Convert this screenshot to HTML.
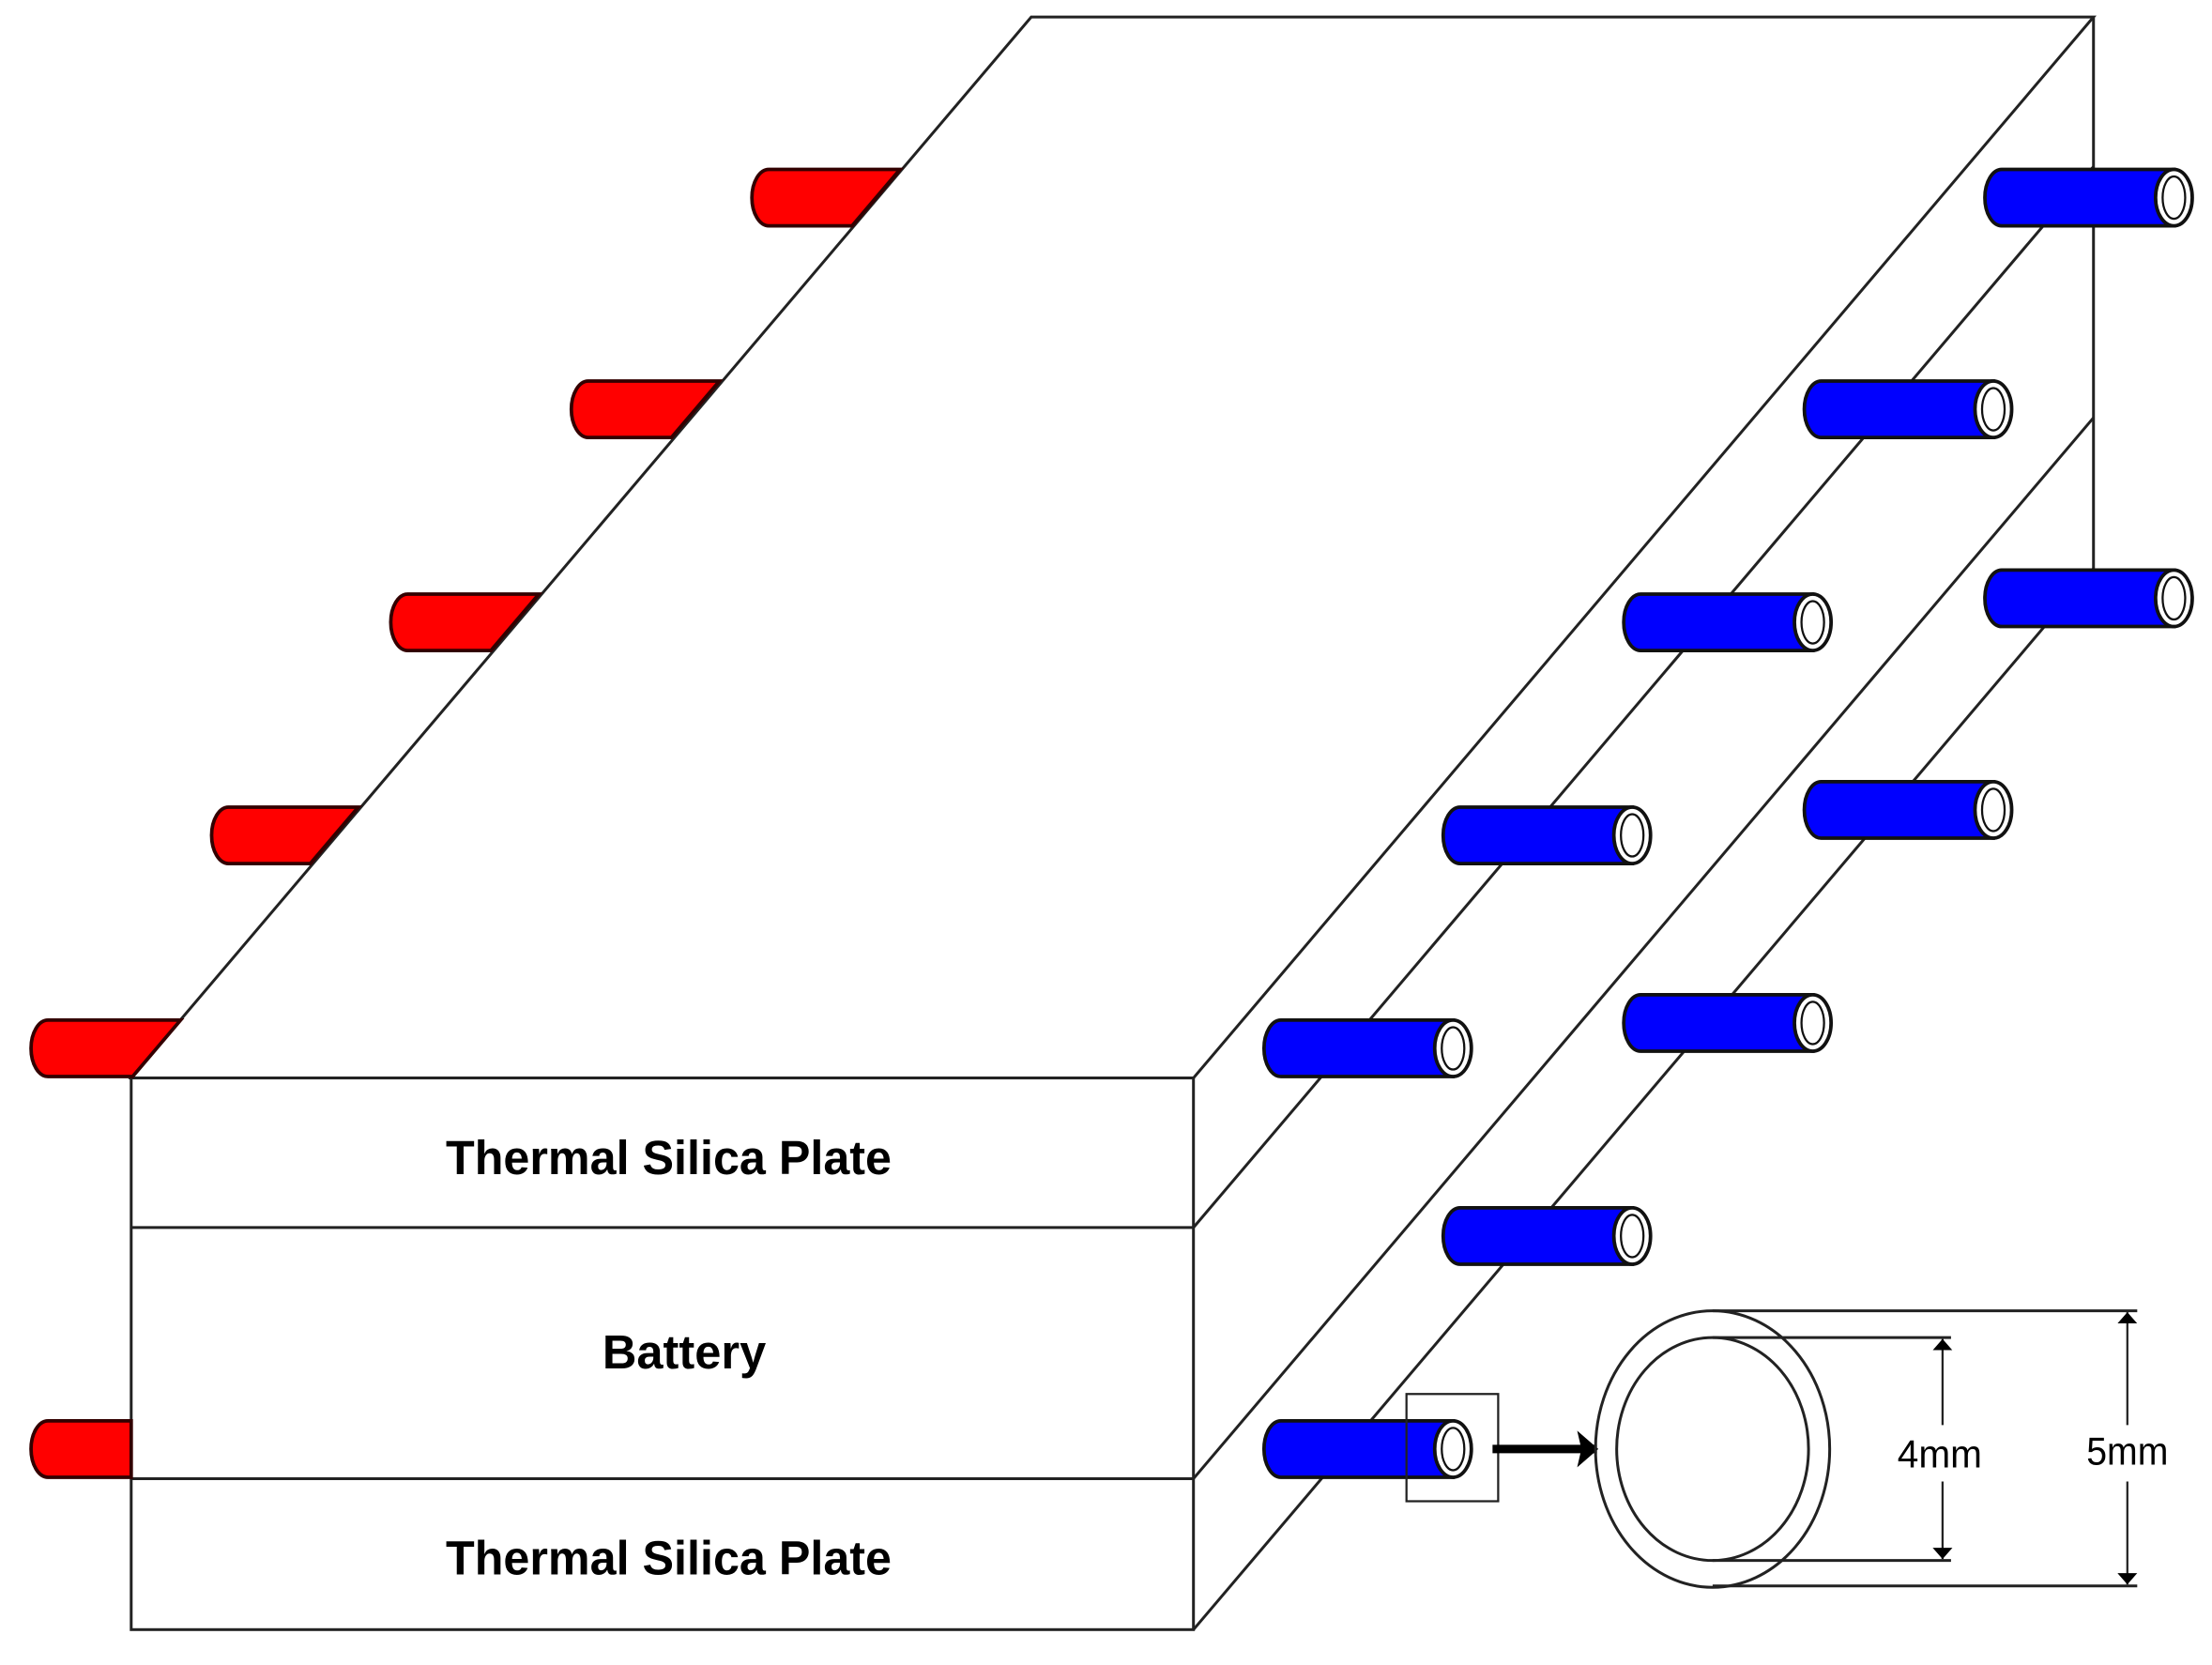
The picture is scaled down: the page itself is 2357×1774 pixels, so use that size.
<!DOCTYPE html>
<html><head><style>html,body{margin:0;padding:0;background:#fff}svg{display:block}</style></head>
<body>
<svg width="2357" height="1774" viewBox="0 0 1568 1180" xmlns="http://www.w3.org/2000/svg">
<defs>
<marker id="ah" markerWidth="8" markerHeight="14" refX="8" refY="7" orient="auto-start-reverse" markerUnits="userSpaceOnUse"><path d="M0,0 L8,7 L0,14 Z" fill="#000"/></marker>
<marker id="big" markerWidth="16" markerHeight="26" refX="14" refY="13" orient="auto" markerUnits="userSpaceOnUse"><path d="M0,0 L15,13 L0,26 L3,13 Z" fill="#000"/></marker>
</defs>
<g stroke="#222" stroke-width="2" fill="none">
<path d="M93,764 L731,12 L1484,12 L846,764 Z" fill="#fff"/>
<line x1="1484" y1="12" x2="1484" y2="403"/>
<line x1="846" y1="870" x2="1484" y2="118"/>
<line x1="846" y1="1048" x2="1484" y2="296"/>
<line x1="846" y1="1155" x2="1484" y2="403"/>
<rect x="93" y="764" width="753" height="391" fill="#fff"/>
<line x1="93" y1="870" x2="846" y2="870"/>
<line x1="93" y1="1048" x2="846" y2="1048"/>
</g>
<g fill="#f00" stroke="#300" stroke-width="2.5">
<path d="M638,120 H545 A12 20 0 0 0 545,160 H604 Z"/>
<path d="M510,270 H417 A12 20 0 0 0 417,310 H476 Z"/>
<path d="M382,421 H289 A12 20 0 0 0 289,461 H348 Z"/>
<path d="M254,572 H162 A12 20 0 0 0 162,612 H220 Z"/>
<path d="M128,723 H34 A12 20 0 0 0 34,763 H94 Z"/>
<path d="M93,1007 H34 A12 20 0 0 0 34,1047 H93 Z"/>
</g>
<g stroke="#111" stroke-width="2.5">
<g transform="translate(1407,140)"><path d="M134,-20 H12 A12 20 0 0 0 12,20 H134 Z" fill="#00f"/><ellipse cx="134" cy="0" rx="13" ry="20" fill="#fff"/><ellipse cx="134" cy="0" rx="8" ry="15" fill="#fff" stroke-width="1.5"/></g>
<g transform="translate(1279,290)"><path d="M134,-20 H12 A12 20 0 0 0 12,20 H134 Z" fill="#00f"/><ellipse cx="134" cy="0" rx="13" ry="20" fill="#fff"/><ellipse cx="134" cy="0" rx="8" ry="15" fill="#fff" stroke-width="1.5"/></g>
<g transform="translate(1151,441)"><path d="M134,-20 H12 A12 20 0 0 0 12,20 H134 Z" fill="#00f"/><ellipse cx="134" cy="0" rx="13" ry="20" fill="#fff"/><ellipse cx="134" cy="0" rx="8" ry="15" fill="#fff" stroke-width="1.5"/></g>
<g transform="translate(1023,592)"><path d="M134,-20 H12 A12 20 0 0 0 12,20 H134 Z" fill="#00f"/><ellipse cx="134" cy="0" rx="13" ry="20" fill="#fff"/><ellipse cx="134" cy="0" rx="8" ry="15" fill="#fff" stroke-width="1.5"/></g>
<g transform="translate(896,743)"><path d="M134,-20 H12 A12 20 0 0 0 12,20 H134 Z" fill="#00f"/><ellipse cx="134" cy="0" rx="13" ry="20" fill="#fff"/><ellipse cx="134" cy="0" rx="8" ry="15" fill="#fff" stroke-width="1.5"/></g>
<g transform="translate(1407,424)"><path d="M134,-20 H12 A12 20 0 0 0 12,20 H134 Z" fill="#00f"/><ellipse cx="134" cy="0" rx="13" ry="20" fill="#fff"/><ellipse cx="134" cy="0" rx="8" ry="15" fill="#fff" stroke-width="1.5"/></g>
<g transform="translate(1279,574)"><path d="M134,-20 H12 A12 20 0 0 0 12,20 H134 Z" fill="#00f"/><ellipse cx="134" cy="0" rx="13" ry="20" fill="#fff"/><ellipse cx="134" cy="0" rx="8" ry="15" fill="#fff" stroke-width="1.5"/></g>
<g transform="translate(1151,725)"><path d="M134,-20 H12 A12 20 0 0 0 12,20 H134 Z" fill="#00f"/><ellipse cx="134" cy="0" rx="13" ry="20" fill="#fff"/><ellipse cx="134" cy="0" rx="8" ry="15" fill="#fff" stroke-width="1.5"/></g>
<g transform="translate(1023,876)"><path d="M134,-20 H12 A12 20 0 0 0 12,20 H134 Z" fill="#00f"/><ellipse cx="134" cy="0" rx="13" ry="20" fill="#fff"/><ellipse cx="134" cy="0" rx="8" ry="15" fill="#fff" stroke-width="1.5"/></g>
<g transform="translate(896,1027)"><path d="M134,-20 H12 A12 20 0 0 0 12,20 H134 Z" fill="#00f"/><ellipse cx="134" cy="0" rx="13" ry="20" fill="#fff"/><ellipse cx="134" cy="0" rx="8" ry="15" fill="#fff" stroke-width="1.5"/></g>
</g>
<g stroke="#222" fill="none">
<rect x="997" y="988" width="65" height="76" stroke-width="1.5"/>
<line x1="1058" y1="1027" x2="1132" y2="1027" stroke="#000" stroke-width="6" marker-end="url(#big)"/>
<ellipse cx="1214" cy="1027" rx="83" ry="98" stroke-width="2"/>
<ellipse cx="1214" cy="1027" rx="68" ry="79" stroke-width="2"/>
<line x1="1214" y1="929" x2="1515" y2="929" stroke-width="2"/>
<line x1="1214" y1="1124" x2="1515" y2="1124" stroke-width="2"/>
<line x1="1214" y1="948" x2="1383" y2="948" stroke-width="2"/>
<line x1="1214" y1="1106" x2="1383" y2="1106" stroke-width="2"/>
<line x1="1377" y1="949" x2="1377" y2="1010" stroke-width="1.5" marker-start="url(#ah)"/>
<line x1="1377" y1="1050" x2="1377" y2="1105" stroke-width="1.5" marker-end="url(#ah)"/>
<line x1="1508" y1="930" x2="1508" y2="1010" stroke-width="1.5" marker-start="url(#ah)"/>
<line x1="1508" y1="1050" x2="1508" y2="1123" stroke-width="1.5" marker-end="url(#ah)"/>
</g>
<g font-family="Liberation Sans, sans-serif" fill="#000" text-anchor="middle">
<text x="474" y="832" font-size="34" font-weight="bold" textLength="316" lengthAdjust="spacingAndGlyphs">Thermal Silica Plate</text>
<text x="485" y="970" font-size="34" font-weight="bold" textLength="116" lengthAdjust="spacingAndGlyphs">Battery</text>
<text x="474" y="1116" font-size="34" font-weight="bold" textLength="316" lengthAdjust="spacingAndGlyphs">Thermal Silica Plate</text>
<text x="1375" y="1040" font-size="28" textLength="60" lengthAdjust="spacingAndGlyphs">4mm</text>
<text x="1508" y="1038" font-size="28" textLength="58" lengthAdjust="spacingAndGlyphs">5mm</text>
</g>
</svg>
</body></html>
